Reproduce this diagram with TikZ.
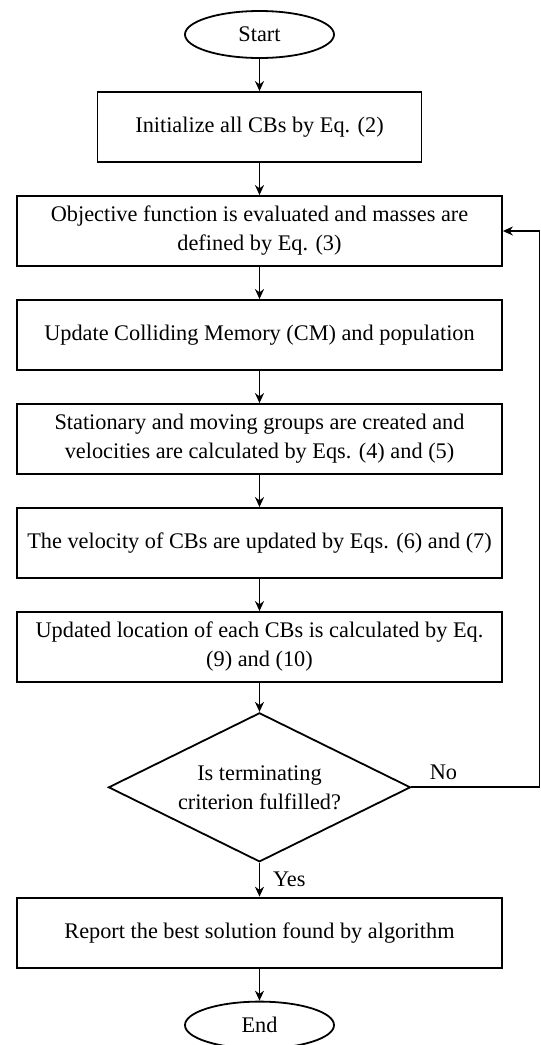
\documentclass[tikz,border=0pt]{standalone}
\usepackage{fontspec}
\setmainfont{Liberation Serif}
\usetikzlibrary{positioning, shapes.geometric, arrows.meta}

\begin{document}
\begin{tikzpicture}[
		node distance=16.1pt,
		font=\fontsize{11.15pt}{14.5pt}\selectfont,
		terminal/.style={
			draw,
			ellipse,
			line width=0.9pt,
			minimum width=74.5pt,
			minimum height=23.5pt,
			inner sep=0pt
		},
		box/.style={
			draw,
			rectangle,
			line width=0.9pt,
			align=center,
			minimum width=242.5pt,
			minimum height=35pt,
			inner sep=2pt
		},
		decision/.style={
			draw,
			diamond,
			aspect=2,
			line width=0.9pt,
			align=center,
			minimum width=151pt,
			minimum height=74.5pt,
			inner sep=0pt
		},
		arrow/.style={-{Stealth[length=5pt, width=4.5pt]}, line width=0.9pt}
		]
		
		\useasboundingbox (-129.75pt,17.25pt) rectangle (140.75pt,-505.25pt);
		
		\node[terminal] (start) at (0,0) {Start};
		\node[box, minimum width=162pt, below=of start] (init) {Initialize all CBs by Eq. (2)};
		\node[box, below=of init] (fitness) {Objective function is evaluated and masses are\\ defined by Eq. (3)};
		\node[box, below=of fitness] (memory) {Update Colliding Memory (CM) and population};
		\node[box, below=of memory] (groups) {Stationary and moving groups are created and\\ velocities are calculated by Eqs. (4) and (5)};
		\node[box, below=of groups] (velocity) {The velocity of CBs are updated by Eqs. (6) and (7)};
		\node[box, below=of velocity] (location) {Updated location of each CBs is calculated by Eq.\\ (9) and (10)};
		\node[decision, below=14.5pt of location] (test) {Is terminating\\ criterion fulfilled?};
		\node[box, below=17pt of test] (report) {Report the best solution found by algorithm};
		\node[terminal, below=of report] (end) {End};
		
		\coordinate (loop) at (140pt,0);
		
		\draw[arrow] (start) -- (init);
		\draw[arrow] (init) -- (fitness);
		\draw[arrow] (fitness) -- (memory);
		\draw[arrow] (memory) -- (groups);
		\draw[arrow] (groups) -- (velocity);
		\draw[arrow] (velocity) -- (location);
		\draw[arrow] (location) -- (test);
		\draw[arrow] (test) -- node[midway, right, xshift=3pt] {Yes} (report);
		\draw[arrow] (report) -- (end);
		
		\draw[arrow] (test.east) -- node[pos=0.25, above] {No} (test.east -| loop) |- (fitness.east);
		
	\end{tikzpicture}
\end{document}
